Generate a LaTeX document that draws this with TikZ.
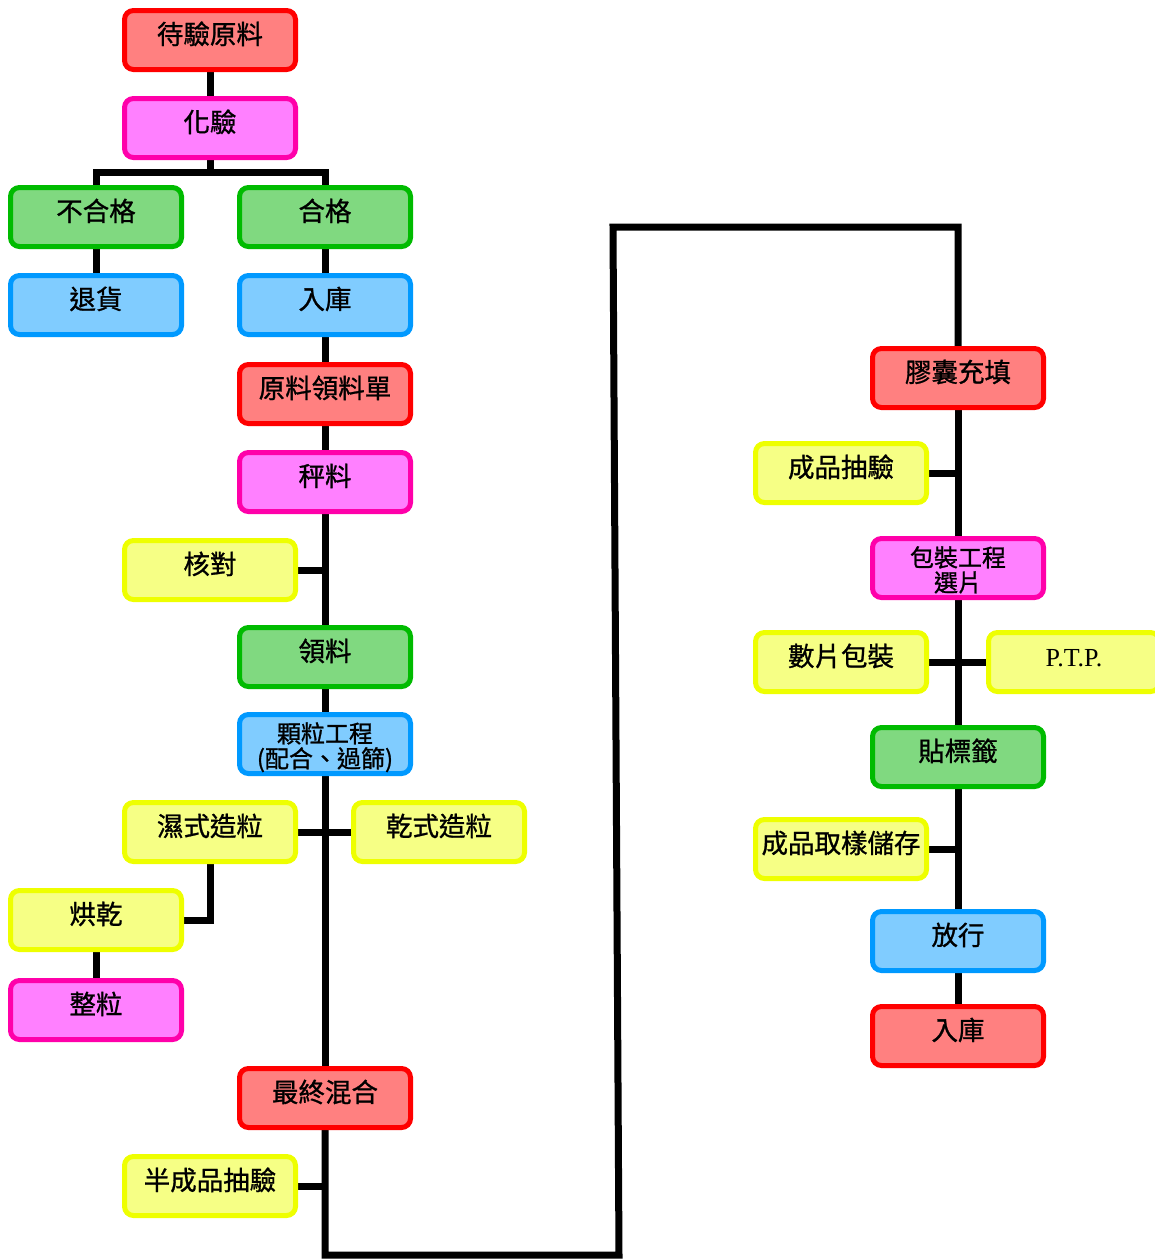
\documentclass[tikz,border=0pt]{standalone}
\usepackage{fontspec}
\setmainfont{Liberation Serif}
\newfontfamily\cjk[FakeBold=1]{Noto Sans CJK TC}
\usetikzlibrary{backgrounds}
\definecolor{rB}{HTML}{FF0000}\definecolor{rF}{HTML}{FF8080}
\definecolor{mB}{HTML}{FF00AA}\definecolor{mF}{HTML}{FF80FF}
\definecolor{gB}{HTML}{00BB00}\definecolor{gF}{HTML}{80D980}
\definecolor{bB}{HTML}{0099FF}\definecolor{bF}{HTML}{80CCFF}
\definecolor{yB}{HTML}{EEFF00}\definecolor{yF}{HTML}{F6FF85}
\tikzset{
  box/.style={draw, line width=5pt, rounded corners=9pt, minimum width=171pt, minimum height=59pt,
    inner sep=0pt, font=\cjk\fontsize{26.5}{27}\selectfont, align=center, text height=22pt, text depth=14pt},
  rbox/.style={box},
  red/.style={fill=rF, draw=rB}, mag/.style={fill=mF, draw=mB}, grn/.style={fill=gF, draw=gB},
  blu/.style={fill=bF, draw=bB}, yel/.style={fill=yF, draw=yB},
  two/.style={font=\cjk\fontsize{24}{25}\selectfont, text height=51pt, text depth=4pt},
  conn/.style={draw=black, line width=7pt, line join=miter}
}
\begin{document}
\begin{tikzpicture}[x=1pt,y=-1pt]
\useasboundingbox (0,0) rectangle (1155,1259);
% left column
\node[box,red] (dyyl) at (210,40) {待驗原料};
\node[box,mag] (hy) at (210,128) {化驗};
\node[box,grn] (bhg) at (96,217) {不合格};
\node[box,grn] (hg) at (325,217) {合格};
\node[box,blu] (th) at (96,305) {退貨};
\node[box,blu] (rk) at (325,305) {入庫};
\node[box,red] (ylld) at (325,394) {原料領料單};
\node[box,mag] (cl) at (325,482) {秤料};
\node[box,yel] (hd) at (210,570) {核對};
\node[box,grn] (ll) at (325,657) {領料};
\node[box,blu,two] (klgc) at (325,744) {顆粒工程\\(配合、過篩)};
\node[box,yel] (ssz) at (210,832) {濕式造粒};
\node[box,yel] (gsz) at (439,832) {乾式造粒};
\node[box,yel] (hgan) at (96,920) {烘乾};
\node[box,mag] (zl) at (96,1010) {整粒};
\node[box,red] (zzhh) at (325,1098) {最終混合};
\node[box,yel] (bccy) at (210,1186) {半成品抽驗};
% right column
\node[rbox,red] (jnct) at (958,378) {膠囊充填};
\node[rbox,yel] (cpcy) at (841,473) {成品抽驗};
\node[rbox,mag,two] (bzgc) at (958,568) {包裝工程\\選片};
\node[rbox,yel] (sbz) at (841,662) {數片包裝};
\node[rbox,yel,font=\fontsize{26}{27}\selectfont] (ptp) at (1074,662) {P.T.P.};
\node[rbox,grn] (tbq) at (958,757) {貼標籤};
\node[rbox,yel] (cpqy) at (841,849) {成品取樣儲存};
\node[rbox,blu] (fx) at (958,941) {放行};
\node[rbox,red] (rk2) at (958,1036) {入庫};
\coordinate (j1) at (210,172);
\coordinate (b1) at (325,1255);
\coordinate (b2) at (619,1255);
\coordinate (t1) at (613,227);
\coordinate (t2) at (958,227);
\begin{scope}[on background layer]
\draw[conn] (dyyl.south) -- (hy.north);
\draw[conn] (hy.south) -- (j1);
\draw[conn] (j1) -| (bhg.north);
\draw[conn] (j1) -| (hg.north);
\draw[conn] (bhg.south) -- (th.north);
\draw[conn] (hg.south) -- (rk.north);
\draw[conn] (rk.south) -- (ylld.north);
\draw[conn] (ylld.south) -- (cl.north);
\draw[conn] (cl.south) -- (zzhh.north);
\draw[conn] (hd.east) -- (hd.east -| cl.south);
\draw[conn] (ssz.east) -- (gsz.west);
\draw[conn] (ssz.south) |- (hgan.east);
\draw[conn] (hgan.south) -- (zl.north);
\draw[conn] (bccy.east) -- (bccy.east -| zzhh.south);
\draw[conn] (zzhh.south) -- (b1) -- (b2) -- (t1) -- (t2) -- (jnct.north);
\draw[conn] (jnct.south) -- (rk2.north);
\draw[conn] (cpcy.east) -- (cpcy.east -| jnct.south);
\draw[conn] (sbz.east) -- (ptp.west);
\draw[conn] (cpqy.east) -- (cpqy.east -| jnct.south);
\end{scope}
\end{tikzpicture}
\end{document}
